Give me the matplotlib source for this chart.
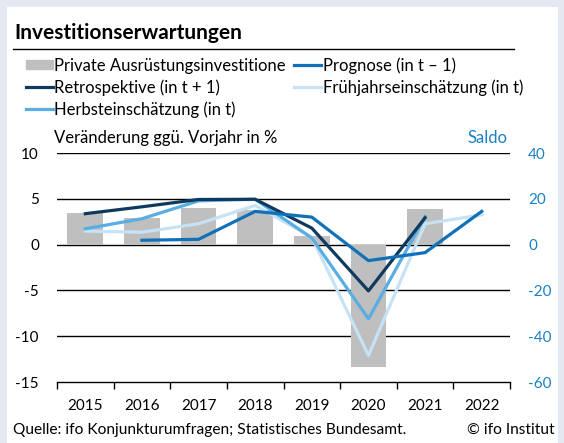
import matplotlib.pyplot as plt
import matplotlib.patches as mpatches
from matplotlib.lines import Line2D
import numpy as np

years = ["2015", "2016", "2017", "2018", "2019", "2020", "2021", "2022"]

# bars: left axis, % change vs previous year
ausruestung = [3.5, 2.95, 3.95, 3.8, 0.95, -13.4, 3.9, np.nan]

# lines: right axis, Saldo
retrospektive = [13.5, 16.5, 19.7, 19.8, 7.2, -20.2, 11.7, np.nan]
prognose = [np.nan, 1.9, 2.3, 14.5, 12.0, -7.0, -3.5, 14.5]
fruehjahr = [5.9, 5.4, 9.1, 17.1, 3.2, -48.4, 9.1, 13.0]
herbst = [6.9, 11.3, 19.1, 19.8, 2.9, -32.4, 12.3, np.nan]

c_bar = "#bfbfbf"
c_retro = "#0f3a5f"
c_prog = "#1070b8"
c_frueh = "#c6e3f6"
c_herbst = "#58ade2"
c_saldo = "#1a80c4"

plt.rcParams['font.family'] = ['Lato', 'DejaVu Sans']
plt.rcParams['font.size'] = 11

fig = plt.figure(figsize=(5.64, 4.43), dpi=100)
fig.patch.set_facecolor("#e3e8f1")
# white panel
fig.patches.append(mpatches.Rectangle((7 / 564, 0), 551 / 564, 1 - 7 / 443,
                                      transform=fig.transFigure,
                                      facecolor="white", edgecolor="none", zorder=-5))

ax = fig.add_axes([57 / 564, 1 - 382 / 443, 453 / 564, 229 / 443])
ax.set_facecolor("none")
x = np.arange(len(years))
ax.bar(x, ausruestung, width=0.63, color=c_bar, zorder=2)
ax.set_xlim(-0.5, len(years) - 0.5)
ax.set_ylim(-15, 10)
ax.set_yticks([-15, -10, -5, 0, 5, 10])
ax.set_yticklabels(["-15", "-10", "-5", "0", "5", "10"])
for v in [-10, -5, 0, 5, 10]:
    ax.axhline(v, color="black", lw=1.0, zorder=1)
for s in ["left", "right", "top"]:
    ax.spines[s].set_visible(False)
ax.spines["bottom"].set_linewidth(1.0)
ax.set_xticks(np.arange(-0.5, len(years), 1.0))
ax.set_xticklabels([])
ax.set_xticks(x, minor=True)
ax.set_xticklabels(years, minor=True)
ax.tick_params(axis="x", which="major", length=5, width=1.0, direction="out")
ax.tick_params(axis="x", which="minor", length=0, pad=12, labelsize=11)
ax.tick_params(axis="y", length=0, pad=13, labelsize=11)

ax2 = ax.twinx()
ax2.set_ylim(-60, 40)
ax2.set_yticks([-60, -40, -20, 0, 20, 40])
ax2.set_yticklabels(["-60", "-40", "-20", "0", "20", "40"])
ax2.tick_params(axis="y", length=0, pad=13, labelsize=11, labelcolor=c_saldo)
for s in ax2.spines.values():
    s.set_visible(False)

lw = 2.3
ax2.plot(x, fruehjahr, color=c_frueh, lw=lw, zorder=3)
ax2.plot(x, herbst, color=c_herbst, lw=lw, zorder=4)
ax2.plot(x, retrospektive, color=c_retro, lw=lw, zorder=5)
ax2.plot(x, prognose, color=c_prog, lw=lw, zorder=6)

fig.text(54 / 564, 1 - 138 / 443, "Veränderung ggü. Vorjahr in %",
         fontsize=12, ha="left", va="center")
fig.text(507 / 564, 1 - 138 / 443, "Saldo", fontsize=12,
         ha="right", va="center", color=c_saldo)

fig.text(14 / 564, 1 - 33 / 443, "Investitionserwartungen", fontsize=15,
         fontweight="bold", ha="left", va="center")
fig.add_artist(Line2D([13 / 564, 514 / 564], [1 - 49 / 443, 1 - 49 / 443],
                      color="black", lw=1.0, transform=fig.transFigure))

handles = [
    mpatches.Patch(color=c_bar),
    Line2D([], [], color=c_retro, lw=lw),
    Line2D([], [], color=c_herbst, lw=lw),
    Line2D([], [], color=c_prog, lw=lw),
    Line2D([], [], color=c_frueh, lw=lw),
]
labels = ["Private Ausrüstungsinvestitione", "Retrospektive (in t + 1)",
          "Herbsteinschätzung (in t)", "Prognose (in t – 1)",
          "Frühjahrseinschätzung (in t)"]
fig.legend(handles, labels, ncol=2, loc="upper left",
           bbox_to_anchor=(26 / 564, 1 - 57 / 443), frameon=False,
           fontsize=12, handlelength=1.6, handleheight=0.45, handletextpad=0.1,
           columnspacing=0.5, labelspacing=0.33, borderpad=0, borderaxespad=0)

fig.text(13 / 564, 1 - 430 / 443,
         "Quelle: ifo Konjunkturumfragen; Statistisches Bundesamt.",
         fontsize=11.2, ha="left", va="center")
fig.text(555 / 564, 1 - 430 / 443, "© ifo Institut", fontsize=11.2,
         ha="right", va="center")

fig.savefig("out.png", dpi=100, facecolor=fig.get_facecolor())
